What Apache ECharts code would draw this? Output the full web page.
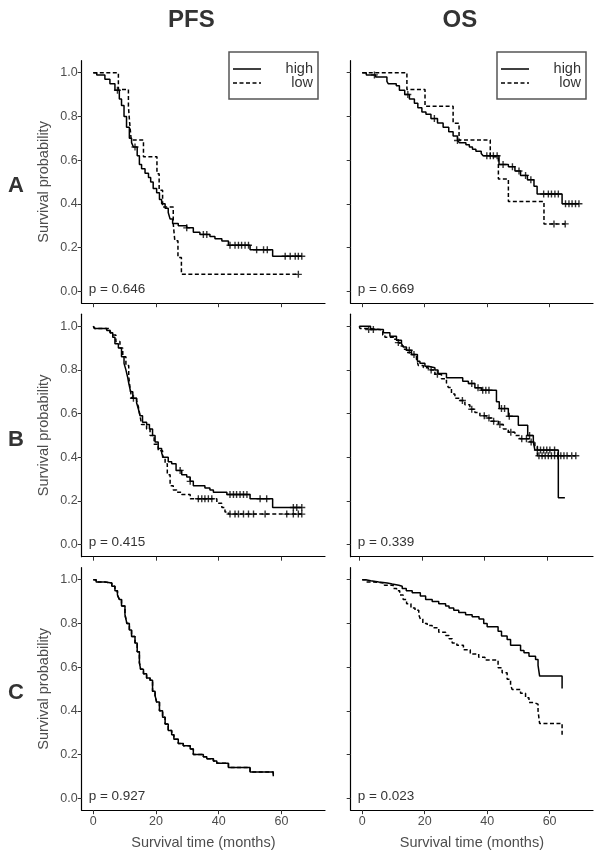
<!DOCTYPE html>
<html><head><meta charset="utf-8">
<script src="https://cdn.jsdelivr.net/npm/echarts@6/dist/echarts.min.js"></script>
<style>html,body{margin:0;padding:0;background:#fff}#c{width:600px;height:853px}</style>
</head><body><div id="c"></div><script>
// ---------- DATA (time in months, survival probability) ----------
var columnTitles = ['PFS', 'OS'];
var rowLabels = ['A', 'B', 'C'];
var groupNames = ['high', 'low'];
var pValues = ['0.646', '0.669', '0.415', '0.339', '0.927', '0.023'];
var xTicks = [0, 20, 40, 60];
var yTicks = [0, 0.2, 0.4, 0.6, 0.8, 1.0];

var pfsA_high = [[0,1],[1.1,0.99],[3.7,0.97],[5.3,0.95],[6.9,0.92],[8.3,0.88],[9.0,0.85],[9.8,0.80],[10.6,0.75],[11.5,0.70],[12.2,0.68],[12.8,0.66],[14.0,0.62],[14.7,0.58],[15.4,0.56],[16.5,0.54],[17.6,0.52],[18.3,0.50],[19.1,0.47],[20.2,0.45],[21.1,0.42],[21.8,0.40],[22.9,0.38],[23.9,0.36],[24.5,0.33],[25.3,0.31],[27.1,0.30],[29.8,0.29],[31.9,0.27],[34.0,0.26],[37.2,0.25],[38.8,0.24],[41.0,0.23],[43.1,0.21],[50.0,0.19],[57.2,0.16],[66.5,0.16]];
var pfsA_high_cens = [7.7,13.3,29.8,35.1,36.2,43.6,45.2,46.3,47.3,48.4,49.5,52.1,54.3,55.5,61.2,62.8,64.4,65.4,66.5];
var pfsA_low = [[0,1],[8.0,0.923],[11.2,0.846],[11.6,0.769],[12.1,0.692],[16.0,0.615],[20.3,0.538],[21.0,0.462],[22.1,0.385],[25.5,0.308],[26.0,0.231],[27.0,0.154],[28.1,0.077],[65.4,0.077]];
var pfsA_low_cens = [65.4];

var osA_high = [[0,1],[1.3,0.99],[4.3,0.98],[7.9,0.96],[8.3,0.95],[10.9,0.94],[11.9,0.92],[13.6,0.90],[15.1,0.88],[16.7,0.86],[17.8,0.84],[19.1,0.82],[20.4,0.81],[22.0,0.79],[24.1,0.77],[25.9,0.75],[27.7,0.73],[29.1,0.71],[30.5,0.69],[31.1,0.68],[33.2,0.67],[34.3,0.66],[35.3,0.65],[36.4,0.64],[38.1,0.63],[38.7,0.62],[43.8,0.58],[46.8,0.57],[48.9,0.55],[50.7,0.53],[52.9,0.51],[55.0,0.48],[56.0,0.445],[64.0,0.40],[69.4,0.40]];
var osA_high_cens = [3.9,14.6,23.1,30.5,39.9,41.0,42.0,43.2,45.1,48.1,50.2,52.3,54.0,58.1,59.6,60.6,61.7,62.8,65.1,66.2,67.2,68.3,69.4];
var osA_low = [[0,1],[14.3,0.923],[20.1,0.846],[29.1,0.769],[31.0,0.692],[41.0,0.615],[43.6,0.513],[46.8,0.41],[58.2,0.308],[65.0,0.308]];
var osA_low_cens = [61.4,65.0];

var pfsB_high = [[0,1],[0.5,0.99],[4.3,0.98],[5.3,0.97],[6.2,0.95],[6.9,0.92],[8.0,0.90],[9.0,0.86],[9.8,0.83],[10.4,0.80],[10.9,0.77],[11.3,0.74],[11.9,0.70],[12.6,0.67],[13.8,0.65],[14.4,0.62],[14.9,0.59],[15.7,0.56],[17.0,0.55],[17.9,0.53],[18.9,0.50],[19.7,0.47],[20.7,0.44],[21.8,0.42],[22.3,0.40],[23.9,0.38],[25.0,0.37],[26.4,0.34],[28.2,0.32],[29.8,0.31],[30.9,0.29],[31.9,0.27],[35.6,0.26],[37.2,0.25],[38.3,0.24],[42.6,0.23],[50.0,0.21],[57.2,0.17],[66.5,0.17]];
var pfsB_high_cens = [27.7,30.9,43.6,44.7,45.7,46.8,47.9,49.0,53.2,55.3,63.8,64.9,66.5];
var pfsB_low = [[0,1],[0.3,0.99],[5.3,0.98],[5.9,0.96],[7.2,0.93],[8.5,0.90],[9.4,0.86],[10.4,0.82],[11.3,0.77],[11.7,0.72],[12.2,0.67],[13.8,0.66],[14.4,0.63],[14.9,0.59],[15.4,0.55],[17.0,0.53],[18.1,0.50],[19.4,0.46],[20.7,0.43],[22.1,0.40],[22.9,0.37],[23.6,0.32],[24.5,0.27],[25.5,0.25],[26.6,0.24],[28.2,0.23],[30.9,0.21],[39.4,0.19],[41.0,0.17],[42.0,0.15],[43.1,0.14],[66.5,0.14]];
var pfsB_low_cens = [12.8,33.5,34.6,35.6,36.7,37.8,43.6,45.2,46.3,47.9,49.5,51.1,54.8,61.7,63.8,65.4,66.5];

var osB_high = [[0,1],[3.6,0.985],[7.7,0.97],[9.8,0.954],[11.9,0.936],[13.5,0.92],[14.1,0.905],[15.1,0.89],[16.7,0.87],[18.6,0.84],[19.4,0.83],[21.0,0.817],[22.1,0.81],[24.2,0.80],[25.2,0.784],[27.9,0.764],[33.1,0.748],[34.9,0.738],[37.0,0.718],[39.1,0.707],[43.9,0.654],[44.8,0.623],[47.7,0.588],[50.9,0.547],[53.9,0.50],[55.7,0.47],[56.2,0.433],[63.7,0.215],[65.8,0.215]];
var osB_high_cens = [16.0,36.0,38.0,39.5,40.5,41.5,45.5,46.5,48.0,54.5,57.0,58.0,59.0,60.0,61.0,62.5];
var osB_low = [[0,1],[0.2,0.99],[2.3,0.985],[6.6,0.98],[7.5,0.96],[8.2,0.95],[10.9,0.94],[12.0,0.925],[13.0,0.91],[14.1,0.895],[15.1,0.88],[16.7,0.87],[18.3,0.85],[18.9,0.82],[20.5,0.81],[22.1,0.80],[24.2,0.78],[26.3,0.76],[27.9,0.74],[28.5,0.72],[29.5,0.69],[30.6,0.67],[32.2,0.66],[33.8,0.64],[35.4,0.62],[37.0,0.605],[38.6,0.59],[40.7,0.58],[42.3,0.565],[44.5,0.55],[46.1,0.53],[47.7,0.515],[49.8,0.50],[51.4,0.485],[54.6,0.47],[56.2,0.45],[57.0,0.407],[69.3,0.407]];
var osB_low_cens = [3.0,4.5,12.5,17.5,23.0,25.0,33.0,36.0,40.0,41.5,43.0,45.0,48.5,52.0,53.5,55.0,57.5,58.5,59.5,60.5,61.5,62.5,63.5,64.5,65.5,66.5,68.0,69.3];

var pfsC_high = [[0,1],[0.9,0.99],[3.7,0.985],[5.9,0.97],[6.9,0.95],[7.7,0.93],[8.3,0.91],[9.0,0.88],[10.1,0.84],[10.7,0.80],[11.5,0.77],[12.2,0.74],[13.3,0.71],[14.0,0.67],[14.7,0.62],[15.1,0.59],[16.0,0.57],[17.0,0.55],[18.1,0.54],[18.9,0.49],[19.7,0.47],[20.2,0.44],[21.1,0.40],[22.1,0.37],[22.9,0.34],[23.9,0.31],[25.0,0.29],[25.7,0.27],[27.1,0.25],[28.7,0.24],[30.9,0.225],[31.9,0.20],[35.1,0.19],[36.2,0.18],[38.3,0.17],[39.4,0.16],[43.1,0.14],[50.0,0.12],[57.4,0.10]];
var pfsC_high_cens = [];
var pfsC_low = [[0,1],[0.9,0.99],[3.7,0.985],[5.9,0.97],[6.9,0.95],[7.7,0.93],[8.3,0.91],[9.0,0.88],[10.1,0.84],[10.7,0.80],[11.5,0.77],[12.2,0.74],[13.3,0.71],[14.0,0.67],[14.7,0.62],[15.1,0.59],[16.0,0.57],[17.0,0.55],[18.1,0.54],[18.9,0.49],[19.7,0.47],[20.2,0.44],[21.1,0.40],[22.1,0.37],[22.9,0.34],[23.9,0.31],[25.0,0.29],[25.7,0.27],[27.1,0.25],[28.7,0.24],[30.9,0.225],[31.9,0.20],[35.1,0.19],[36.2,0.18],[38.3,0.17],[39.4,0.16],[43.1,0.14],[50.0,0.12],[57.4,0.10]];
var pfsC_low_cens = [];

var osC_high = [[0,1],[1.1,0.995],[2.7,0.99],[5.3,0.985],[8.0,0.98],[9.6,0.975],[11.7,0.97],[12.8,0.96],[14.1,0.95],[16.0,0.94],[18.6,0.925],[20.3,0.91],[22.4,0.90],[24.5,0.89],[26.7,0.88],[27.8,0.87],[29.3,0.86],[30.9,0.85],[33.1,0.84],[35.2,0.83],[37.4,0.82],[38.9,0.80],[40.0,0.785],[43.5,0.764],[44.6,0.742],[46.4,0.726],[47.5,0.70],[50.7,0.676],[51.8,0.666],[53.4,0.65],[55.5,0.635],[56.3,0.608],[56.8,0.559],[64.0,0.502]];
var osC_high_cens = [];
var osC_low = [[0,1],[1.1,0.99],[3.7,0.985],[7.1,0.975],[9.9,0.96],[11.0,0.95],[12.0,0.93],[13.1,0.91],[14.2,0.89],[15.6,0.87],[16.9,0.86],[18.1,0.84],[18.6,0.82],[19.4,0.80],[20.8,0.79],[22.4,0.78],[24.5,0.76],[26.7,0.745],[27.8,0.73],[28.8,0.71],[30.3,0.70],[32.4,0.68],[34.6,0.66],[37.3,0.645],[39.3,0.632],[43.5,0.597],[44.8,0.574],[46.4,0.544],[47.5,0.518],[48.0,0.498],[50.7,0.48],[52.3,0.46],[53.4,0.438],[55.0,0.43],[56.3,0.40],[56.8,0.342],[64.0,0.281]];
var osC_low_cens = [];

// ---------- LAYOUT ----------
var FONT = 'Liberation Sans, Arial, Helvetica, sans-serif';
var colX = [81.7, 350.7], colW = [243.3, 242.3];
var rowY = [60.7, 314.2, 567.7], rowH = 242.5;
var xRange = [[-3.7, 73.9], [-3.7, 73.9], [-3.7, 73.9], [-2.75, 74.8], [-3.7, 73.9], [-3.7, 73.9]];

var panels = [
  {hi: pfsA_high, hiC: pfsA_high_cens, lo: pfsA_low, loC: pfsA_low_cens},
  {hi: osA_high, hiC: osA_high_cens, lo: osA_low, loC: osA_low_cens},
  {hi: pfsB_high, hiC: pfsB_high_cens, lo: pfsB_low, loC: pfsB_low_cens},
  {hi: osB_high, hiC: osB_high_cens, lo: osB_low, loC: osB_low_cens},
  {hi: pfsC_high, hiC: pfsC_high_cens, lo: pfsC_low, loC: pfsC_low_cens},
  {hi: osC_high, hiC: osC_high_cens, lo: osC_low, loC: osC_low_cens}
];

function survAt(curve, t) {
  var s = curve[0][1];
  for (var i = 0; i < curve.length; i++) { if (curve[i][0] <= t + 1e-9) s = curve[i][1]; }
  return s;
}
var PLUS = 'path://M-1,-5L1,-5L1,-1L5,-1L5,1L1,1L1,5L-1,5L-1,1L-5,1L-5,-1L-1,-1Z';
var DASH = [4, 2.5];

var grids = [], xAxes = [], yAxes = [], series = [], graphics = [];
panels.forEach(function (p, i) {
  var row = Math.floor(i / 2), col = i % 2;
  grids.push({left: colX[col], top: rowY[row], width: colW[col], height: rowH, containLabel: false});
  var bottom = row === 2;
  xAxes.push({
    type: 'value', gridIndex: i, min: xRange[i][0], max: xRange[i][1],
    splitLine: {show: false},
    axisLine: {show: true, onZero: false, lineStyle: {color: '#000', width: 1.2}},
    axisTick: {show: true, length: 4, lineStyle: {color: '#333', width: 1}, customValues: xTicks},
    axisLabel: {show: bottom, customValues: xTicks, fontSize: 12.5, color: '#4d4d4d', fontFamily: FONT, margin: 5},
    name: bottom ? 'Survival time (months)' : '', nameLocation: 'middle', nameGap: 25,
    nameTextStyle: {fontSize: 14.5, color: '#4d4d4d', fontFamily: FONT}
  });
  yAxes.push({
    type: 'value', gridIndex: i, min: -0.055, max: 1.055,
    splitLine: {show: false},
    axisLine: {show: true, onZero: false, lineStyle: {color: '#000', width: 1.2}},
    axisTick: {show: true, length: 4, lineStyle: {color: '#333', width: 1}, customValues: yTicks},
    axisLabel: {show: col === 0, customValues: yTicks, fontSize: 12.5, color: '#4d4d4d', fontFamily: FONT, margin: 4,
      formatter: function (v) { return v.toFixed(1); }},
    name: col === 0 ? 'Survival probability' : '', nameLocation: 'middle', nameGap: 30, nameRotate: 90,
    nameTextStyle: {fontSize: 14.5, color: '#4d4d4d', fontFamily: FONT}
  });
  [[p.hi, p.hiC, 'solid'], [p.lo, p.loC, DASH]].forEach(function (g, k) {
    series.push({
      type: 'line', name: groupNames[k], xAxisIndex: i, yAxisIndex: i, data: g[0], step: 'end',
      symbol: 'none', showSymbol: false, silent: true, z: 3 + k,
      lineStyle: {color: '#000', width: 1.5, type: g[2]}
    });
    if (g[1].length) {
      series.push({
        type: 'scatter', xAxisIndex: i, yAxisIndex: i, silent: true, z: 5,
        data: g[1].map(function (t) { return [t, survAt(g[0], t)]; }),
        symbol: PLUS, symbolSize: 7, itemStyle: {color: '#000'}
      });
    }
  });
  // p-value
  graphics.push({type: 'text', left: colX[col] + 7, top: rowY[row] + rowH - 21,
    style: {text: 'p = ' + pValues[i], font: '13.5px ' + FONT, fill: '#333'}});
});

// column titles
columnTitles.forEach(function (t, c) {
  graphics.push({type: 'text', x: colX[c] + colW[c] / 2 - 12, y: 20,
    style: {text: t, font: 'bold 24px ' + FONT, fill: '#333', align: 'center', verticalAlign: 'middle'}});
});
// row labels
rowLabels.forEach(function (t, r) {
  graphics.push({type: 'text', x: 16, y: rowY[r] + rowH / 2 + 4,
    style: {text: t, font: 'bold 22px ' + FONT, fill: '#333', align: 'center', verticalAlign: 'middle'}});
});
// legends (top row only)
[0, 1].forEach(function (c) {
  var bx = colX[c] + colW[c] - 96, by = 52;
  graphics.push({type: 'rect', shape: {x: bx, y: by, width: 89, height: 47},
    style: {fill: '#fff', stroke: '#555', lineWidth: 1.5}, z: 10});
  graphics.push({type: 'line', shape: {x1: bx + 4, y1: by + 17, x2: bx + 32, y2: by + 17},
    style: {stroke: '#000', lineWidth: 1.5}, z: 11});
  graphics.push({type: 'line', shape: {x1: bx + 4, y1: by + 31, x2: bx + 32, y2: by + 31},
    style: {stroke: '#000', lineWidth: 1.5, lineDash: DASH}, z: 11});
  graphics.push({type: 'text', x: bx + 84, y: by + 17, z: 11,
    style: {text: groupNames[0], font: '14.5px ' + FONT, fill: '#333', align: 'right', verticalAlign: 'middle'}});
  graphics.push({type: 'text', x: bx + 84, y: by + 31, z: 11,
    style: {text: groupNames[1], font: '14.5px ' + FONT, fill: '#333', align: 'right', verticalAlign: 'middle'}});
});

var chart = echarts.init(document.getElementById('c'), null, {renderer: 'canvas'});
chart.setOption({
  animation: false, backgroundColor: '#fff',
  grid: grids, xAxis: xAxes, yAxis: yAxes, series: series, graphic: graphics
});
</script></body></html>
